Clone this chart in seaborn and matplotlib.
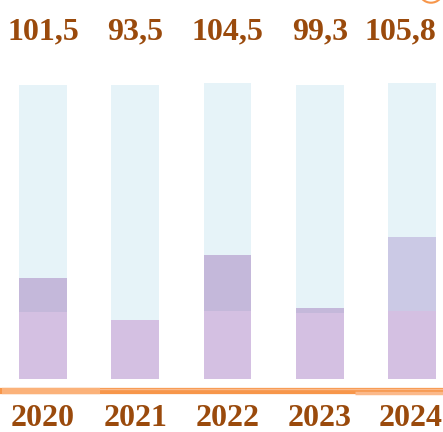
import pandas as pd
import seaborn as sns
import matplotlib.pyplot as plt
from matplotlib.patches import Circle

# data (heights in screen units, track = full column)
years = ['2020', '2021', '2022', '2023', '2024']
totals = ['101,5', '93,5', '104,5', '99,3', '105,8']
base_part = [67, 59, 68, 66, 68]
upper_part = [34, 0, 56, 5, 74]
track = [294, 294, 296, 294, 296]

df = pd.DataFrame({'year': years, 'base': base_part, 'upper': upper_part, 'track': track})
df['stack'] = df['base'] + df['upper']

sns.set_style('white')
plt.rcParams['font.family'] = ['Liberation Serif', 'DejaVu Serif']

fig = plt.figure(figsize=(4.43, 4.32), dpi=100)
ax = fig.add_axes([0, 0, 1, 1])

w = 0.52
kw = dict(saturation=1, width=w, linewidth=0, ax=ax)
sns.barplot(data=df, x='year', y='track', color='#e6f3f8', **kw)
sns.barplot(data=df, x='year', y='stack', color='#c4b8da', **kw)
ax.patches[-1].set_facecolor('#cbc9e5')  # last year's upper block is a bit bluer
sns.barplot(data=df, x='year', y='base', color='#d4c0e2', **kw)

x_right = 4.336
ax.set_xlim(-0.466, x_right)
ax.set_ylim(-53, 379)
ax.axis('off')

# orange baseline strip
ax.axhline(-12, color='#f7964a', lw=4.5, zorder=3)
ax.hlines(-9.5, -0.44, x_right, color='#fbb98a', lw=1, zorder=4)
ax.hlines(-12, -0.44, 0.62, color='#fbb27a', lw=4.5, zorder=4)
ax.hlines(-13.5, 3.38, x_right, color='#fbb98a', lw=2.5, zorder=4)

brown = '#9a4a0c'
n = len(years)
for i, (yr, t) in enumerate(zip(years, totals)):
    last = i == n - 1
    ax.text(i + w / 2 if last else i, 340, t, ha='right' if last else 'center', va='baseline',
            fontsize=23, fontweight='bold', color=brown)
    ax.text(x_right - 0.005 if last else i, -47, yr, ha='right' if last else 'center', va='baseline',
            fontsize=23, fontweight='bold', color=brown)

# bit of an orange ring at the top-right corner
fig.patches.append(Circle((431 / 443, 1 + 9 / 432), 12 / 443, transform=fig.transFigure,
                          fill=False, edgecolor='#f7964a', lw=1.5))

fig.savefig('out.png', dpi=100)
